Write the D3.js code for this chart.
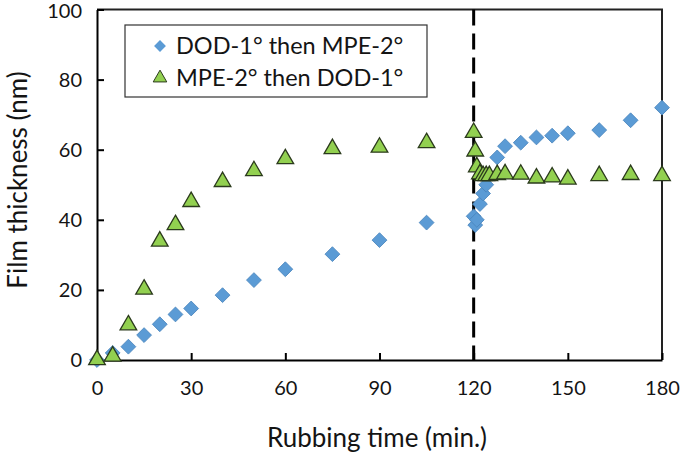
<!DOCTYPE html>
<html><head><meta charset="utf-8">
<script src="https://cdn.jsdelivr.net/npm/d3@7"></script>
<style>body{margin:0;background:#fff}svg{display:block}text{font-family:Lato,"Open Sans",sans-serif;fill:#141414}</style>
</head><body>
<script>
const dodTimes = [0,5,10,15,20,25,30,40,50,60,75,90,105,120,120.5,121,122,123,124,127.5,130,135,140,145,150,160,170,180];
const dodValues = [0,2,3.8,7.1,10.2,13,14.7,18.5,22.8,25.9,30.2,34.2,39.2,41,38.5,40,44.5,47.5,50,57.8,61,62,63.5,64,64.7,65.6,68.4,72];
const mpeTimes = [0,5,10,15,20,25,30,40,50,60,75,90,105,120,120.5,121,122,123,124,125,127.5,130,135,140,145,150,160,170,180];
const mpeValues = [0.5,1.5,10.4,20.6,34.3,39,45.6,51.3,54.4,57.8,60.7,61.1,62.4,65.3,60,55.5,53.5,53,53,53,53.3,53.5,53.4,52.3,52.6,52,53,53.3,53];
const xTicks = [0,30,60,90,120,150,180];
const yTicks = [0,20,40,60,80,100];
const seriesNames = ["DOD-1° then MPE-2°","MPE-2° then DOD-1°"];
const dividerTime = 120;

const W=685,H=458;
const svg=d3.select("body").append("svg").attr("width",W).attr("height",H);
const x=d3.scaleLinear().domain([0,180]).range([97,662]);
const y=d3.scaleLinear().domain([0,100]).range([360,9.5]);

svg.append("path").attr("d",`M${x(0)},${y(100)}H${x(180)}V${y(0)}`).attr("fill","none").attr("stroke","#222").attr("stroke-width",2);

const xa=svg.append("g").attr("transform",`translate(0,${y(0)})`)
  .call(d3.axisBottom(x).tickValues(xTicks).tickSizeInner(-7).tickSizeOuter(0).tickPadding(21));
const ya=svg.append("g").attr("transform",`translate(${x(0)},0)`)
  .call(d3.axisLeft(y).tickValues(yTicks).tickSizeInner(-7).tickSizeOuter(0).tickPadding(15));
[xa,ya].forEach(g=>{g.select(".domain").attr("stroke","#000").attr("stroke-width",2);
  g.selectAll(".tick line").attr("stroke","#000").attr("stroke-width",2);
  g.selectAll(".tick text").attr("font-size",20).attr("font-family","Lato").attr("fill","#141414");});
ya.selectAll(".tick text").filter(d=>d===100).attr("dy","0.42em");

svg.append("line").attr("x1",x(dividerTime)).attr("x2",x(dividerTime)).attr("y1",y(100)).attr("y2",y(0))
  .attr("stroke","#000").attr("stroke-width",3).attr("stroke-dasharray","16,8");

const diamond=d3.symbol().type(d3.symbolSquare).size(110);
const tri=d3.symbol().type(d3.symbolTriangle).size(120);

svg.append("g").selectAll("path").data(dodTimes.map((t,i)=>[t,dodValues[i]])).join("path")
  .attr("d",diamond).attr("transform",d=>`translate(${x(d[0])},${y(d[1])}) rotate(45)`)
  .attr("fill","#5B9BD5").attr("stroke","#4a85bd").attr("stroke-width",0.8);
svg.append("g").selectAll("path").data(mpeTimes.map((t,i)=>[t,mpeValues[i]])).join("path")
  .attr("d",tri).attr("transform",d=>`translate(${x(d[0])},${y(d[1])+1.5})`)
  .attr("fill","#92D050").attr("stroke","#2b3a1c").attr("stroke-width",1.3);

const lg=svg.append("g");
lg.append("rect").attr("x",125).attr("y",25).attr("width",302).attr("height",72).attr("fill","#fff").attr("stroke","#333").attr("stroke-width",1.2);
lg.append("path").attr("d",d3.symbol().type(d3.symbolSquare).size(70)).attr("transform","translate(160,46) rotate(45)").attr("fill","#5B9BD5");
lg.append("path").attr("d",d3.symbol().type(d3.symbolTriangle).size(80)).attr("transform","translate(160,78)").attr("fill","#92D050").attr("stroke","#2b3a1c").attr("stroke-width",1);
lg.append("text").attr("x",176).attr("y",54).attr("font-size",23.5).text(seriesNames[0]);
lg.append("text").attr("x",176).attr("y",86).attr("font-size",23.5).text(seriesNames[1]);

svg.append("text").attr("x",377).attr("y",447).attr("text-anchor","middle").attr("font-size",26).text("Rubbing time (min.)");
svg.append("text").attr("transform","translate(27,180) rotate(-90)").attr("text-anchor","middle").attr("font-size",26).text("Film thickness (nm)");
</script></body></html>
